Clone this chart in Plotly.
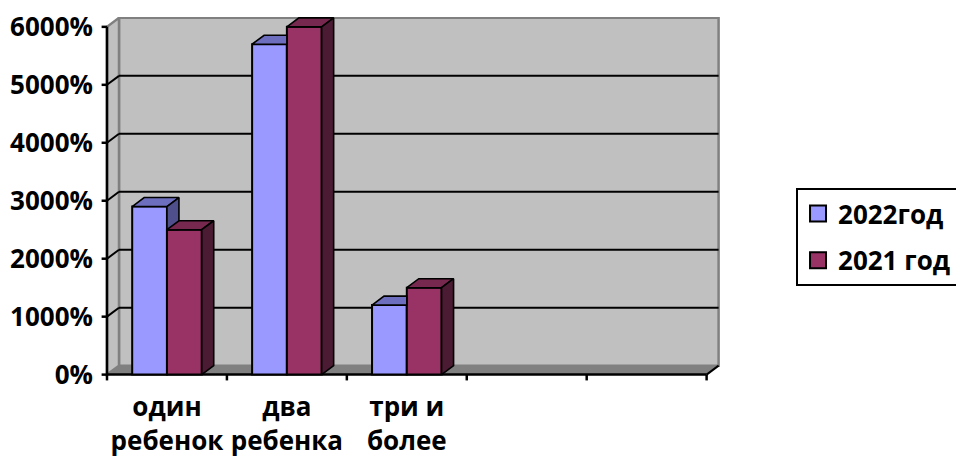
import plotly.graph_objects as go

# ---- data ----
categories = ["один<br>ребенок", "два<br>ребенка", "три и<br>более"]
series_names = ["2022год", "2021 год"]
values_2022 = [2900, 5700, 1200]
values_2021 = [2500, 6000, 1500]
y_ticks = [0, 1000, 2000, 3000, 4000, 5000, 6000]
y_tick_labels = [f"{v}%" for v in y_ticks]
n_slots = 5  # category slots on the axis (two empty)

# ---- style ----
C_FRONT = ["#9999FF", "#993366"]
C_TOP = ["#6E6EBE", "#76284F"]
C_SIDE = ["#4F4F8C", "#4B1A33"]
WALL = "#C0C0C0"
FLOOR = "#808080"
EDGE = "#808080"
FONT = dict(family="Open Sans", size=26, color="black", weight="bold")
LFONT = dict(family="Open Sans", size=26, color="black", weight="bold")

DX = 0.1      # depth offset in x units
DY = 155      # depth offset in y units
BW = 0.29     # bar width
YMAX = max(y_ticks)

fig = go.Figure()

# front faces as real bars
xs = [i + 0.5 for i in range(len(categories))]
for k, vals in enumerate([values_2022, values_2021]):
    fig.add_trace(go.Bar(
        x=xs, y=vals, width=BW, offset=-BW if k == 0 else 0,
        marker=dict(color=C_FRONT[k], line=dict(color="black", width=2)),
        name=series_names[k], showlegend=False, hoverinfo="skip"))


def clip_half(poly, axis, c, keep_ge):
    out = []
    n = len(poly)
    for i in range(n):
        P, Q = poly[i], poly[(i + 1) % n]
        pin = P[axis] >= c if keep_ge else P[axis] <= c
        qin = Q[axis] >= c if keep_ge else Q[axis] <= c
        if pin:
            out.append(P)
        if pin != qin:
            t = (c - P[axis]) / (Q[axis] - P[axis])
            out.append((P[0] + t * (Q[0] - P[0]), P[1] + t * (Q[1] - P[1])))
    return out


def add_poly(poly, color):
    if len(poly) < 3:
        return
    px = [p[0] for p in poly] + [poly[0][0]]
    py = [p[1] for p in poly] + [poly[0][1]]
    fig.add_trace(go.Scatter(x=px, y=py, mode="lines", fill="toself",
                             fillcolor=color, line=dict(color="black", width=1.6),
                             showlegend=False, hoverinfo="skip"))


for i, xc in enumerate(xs):
    v1, v2 = values_2022[i], values_2021[i]
    xl1, xr1 = xc - BW, xc
    xl2, xr2 = xc, xc + BW
    # 2022 top face (partly hidden by the 2021 bar if that is taller)
    top1 = [(xl1, v1), (xr1, v1), (xr1 + DX, v1 + DY), (xl1 + DX, v1 + DY)]
    if v2 <= v1:
        add_poly(top1, C_TOP[0])
    else:
        add_poly(clip_half(top1, 0, xr1, False), C_TOP[0])
        if v2 < v1 + DY:
            add_poly(clip_half(clip_half(top1, 0, xr1, True), 1, v2, True), C_TOP[0])
    # 2022 side face: only the part above the 2021 bar is visible
    side1 = [(xr1, 0), (xr1 + DX, DY), (xr1 + DX, v1 + DY), (xr1, v1)]
    add_poly(clip_half(side1, 1, v2, True), C_SIDE[0])
    # 2021 top & side faces
    add_poly([(xl2, v2), (xr2, v2), (xr2 + DX, v2 + DY), (xl2 + DX, v2 + DY)], C_TOP[1])
    add_poly([(xr2, 0), (xr2 + DX, DY), (xr2 + DX, v2 + DY), (xr2, v2)], C_SIDE[1])

# legend entries
for k in range(2):
    fig.add_trace(go.Scatter(
        x=[None], y=[None], mode="markers", name=series_names[k],
        marker=dict(symbol="square", size=16, color=C_FRONT[k],
                    line=dict(color="black", width=2)),
        legendgroup=str(k)))

shapes = []
# back wall
shapes.append(dict(type="rect", xref="x", yref="y", x0=DX, x1=n_slots + DX,
                   y0=DY, y1=YMAX + DY, fillcolor=WALL,
                   line=dict(color=EDGE, width=2.5), layer="below"))
# side wall
shapes.append(dict(type="path", xref="x", yref="y",
                   path=f"M0,0 L{DX},{DY} L{DX},{YMAX + DY} L0,{YMAX} Z",
                   fillcolor=WALL, line=dict(color=EDGE, width=2.5), layer="below"))
# floor
shapes.append(dict(type="path", xref="x", yref="y",
                   path=f"M0,0 L{n_slots},0 L{n_slots + DX},{DY} L{DX},{DY} Z",
                   fillcolor=FLOOR, line=dict(width=0), layer="below"))
# gridlines on back and side walls
for v in y_ticks[1:-1]:
    shapes.append(dict(type="line", xref="x", yref="y", x0=DX, x1=n_slots + DX,
                       y0=v + DY, y1=v + DY, line=dict(color="black", width=2),
                       layer="below"))
    shapes.append(dict(type="line", xref="x", yref="y", x0=0, x1=DX,
                       y0=v, y1=v + DY, line=dict(color="black", width=2),
                       layer="below"))
# value axis line and ticks
shapes.append(dict(type="line", xref="x", yref="y", x0=0, x1=0, y0=0, y1=YMAX,
                   line=dict(color="black", width=2.5), layer="below"))
for v in y_ticks:
    shapes.append(dict(type="line", xref="x", yref="y", x0=-0.045, x1=0,
                       y0=v, y1=v, line=dict(color="black", width=2.5), layer="below"))
# category axis line, depth edge and ticks
shapes.append(dict(type="line", xref="x", yref="y", x0=0, x1=n_slots, y0=0, y1=0,
                   line=dict(color="black", width=2.5), layer="below"))
shapes.append(dict(type="line", xref="x", yref="y", x0=n_slots, x1=n_slots + DX,
                   y0=0, y1=DY, line=dict(color="black", width=2), layer="below"))
for k in range(n_slots + 1):
    shapes.append(dict(type="line", xref="x", yref="y", x0=k, x1=k, y0=0, y1=-100,
                       line=dict(color="black", width=2.5), layer="below"))

fig.update_layout(
    width=956, height=461,
    margin=dict(l=101, r=235, t=17, b=80, autoexpand=False),
    paper_bgcolor="white", plot_bgcolor="white",
    barmode="overlay",
    shapes=shapes,
    font=FONT,
    showlegend=True,
    legend=dict(x=1.121, y=0.53, xanchor="left", yanchor="top",
                bordercolor="black", borderwidth=2, bgcolor="white",
                font=LFONT, traceorder="grouped", tracegroupgap=10),
    xaxis=dict(range=[-0.05, n_slots + 0.12], tickvals=xs, ticktext=categories,
               ticks="", showgrid=False, zeroline=False, showline=False,
               tickfont=FONT, ticklabelstandoff=8, fixedrange=True,
               automargin=False),
    yaxis=dict(range=[-110, YMAX + 170], tickvals=y_ticks, ticktext=y_tick_labels,
               ticks="", showgrid=False, zeroline=False, showline=False,
               tickfont=FONT, ticklabelstandoff=7, fixedrange=True,
               automargin=False),
)

fig.write_html("out.html", config={"displayModeBar": False},
               post_script="document.body.style.margin='0px';"
                           "document.body.style.overflow='hidden';")
